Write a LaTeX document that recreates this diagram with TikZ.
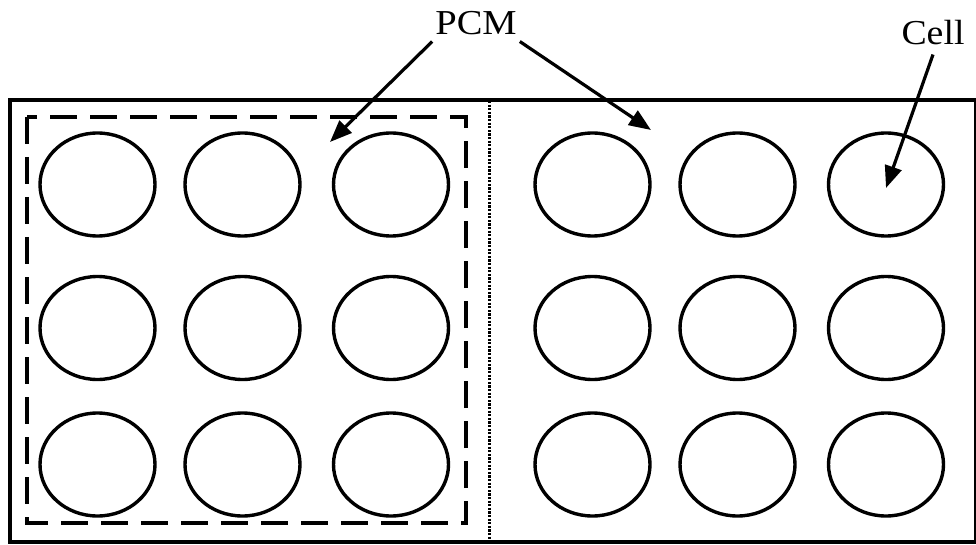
\documentclass[tikz,border=0pt]{standalone}
\usepackage{fontspec}
\setmainfont{Liberation Serif}
\usetikzlibrary{shapes.geometric,arrows.meta}
\begin{document}
\begin{tikzpicture}[x=1pt,y=-1pt,
  cellshape/.style={ellipse,draw,line width=3.4pt,minimum width=115pt,minimum height=103pt,inner sep=0pt},
  frame/.style={draw,line width=3.4pt},
  pcmbox/.style={draw,line width=3.8pt,dash pattern=on 27pt off 13pt},
  divider/.style={draw,line width=3pt,dash pattern=on 2.2pt off 1.4pt},
  label/.style={font=\fontsize{35}{40}\selectfont,inner xsep=3pt,inner ysep=6pt},
  pointer/.style={line width=3.2pt,-{Triangle[length=22pt,width=17pt]}}]
\useasboundingbox (0,0) rectangle (976,545);
% housing and the divider between the two halves
\draw[frame] (10,100) rectangle (976,542);
\draw[divider] (489,101) -- (489,541);
% dashed outline of the phase change material block
\draw[pcmbox] (27,117) rectangle (466,523);
% battery cells, three rows by six columns
\foreach \col/\cx in {1/97.5,2/242.5,3/391,4/592.5,5/737.5,6/886}{
  \foreach \row/\cy in {1/184.5,2/328,3/464.5}{
    \node[cellshape] (c\row\col) at (\cx,\cy) {};
  }
}
% labels and pointers
\node[label,anchor=base] (pcm) at (476,35) {\scalebox{1.1}[1]{PCM}};
\node[label,anchor=base,inner ysep=9pt] (cell) at (933,45) {\scalebox{1.08}[1]{Cell}};
\coordinate (pcmtipL) at (330,142);
\coordinate (pcmtipR) at (651,130);
\coordinate (celltip) at (886,188);
\draw[pointer] (pcm.south west) -- (pcmtipL);
\draw[pointer] (pcm.south east) -- (pcmtipR);
\draw[pointer] (cell.south) -- (celltip);
\end{tikzpicture}
\end{document}
